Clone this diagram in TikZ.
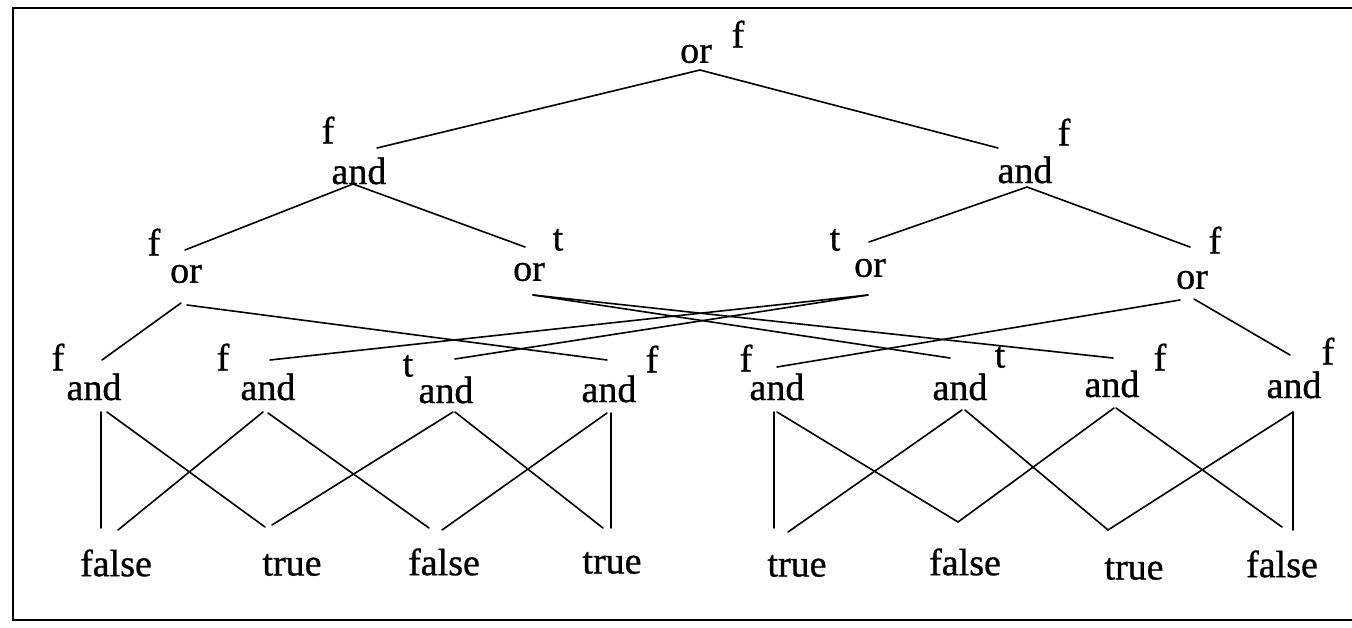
\documentclass[tikz,border=0pt]{standalone}
\usepackage{fontspec}
\setmainfont{Liberation Serif}[FakeBold=0.8]
\newcommand\edgeline[4]{\draw[edge] ([shift={#2}]#1.center) -- ([shift={#4}]#3.center);}
\begin{document}
\begin{tikzpicture}[x=1pt,y=-1pt,
  txt/.style={inner sep=0pt, font=\fontsize{38}{38}\selectfont},
  edge/.style={line width=1.6pt, line cap=round},
  frame/.style={line width=2.5pt}]
\useasboundingbox (0,0) rectangle (1352,627);
\draw[frame] (1352,8) -- (13,8) -- (13,620) -- (1352,620);
% level 1
\node[txt] (root) at (696,54) {or};
\node[txt] (rootv) at (738,34) {f};
% level 2
\node[txt] (andL) at (359,171) {and};
\node[txt] (andLv) at (328,130) {f};
\node[txt] (andR) at (1025,170) {and};
\node[txt] (andRv) at (1064,132) {f};
% level 3
\node[txt] (or1) at (186,274) {or};
\node[txt] (or1v) at (154,242) {f};
\node[txt] (or2) at (529,272) {or};
\node[txt] (or2v) at (558,240) {t};
\node[txt] (or3) at (870,268) {or};
\node[txt] (or3v) at (835,240) {t};
\node[txt] (or4) at (1192,280) {or};
\node[txt] (or4v) at (1215,240) {f};
% level 4
\node[txt] (a1) at (94,387) {and};   \node[txt] (a1v) at (58,357) {f};
\node[txt] (a2) at (268,387) {and};  \node[txt] (a2v) at (223,357) {f};
\node[txt] (a3) at (446,390) {and};  \node[txt] (a3v) at (408,366) {t};
\node[txt] (a4) at (609,389) {and};  \node[txt] (a4v) at (652,359) {f};
\node[txt] (a5) at (777,387) {and};  \node[txt] (a5v) at (746,358) {f};
\node[txt] (a6) at (960,387) {and};  \node[txt] (a6v) at (1000,357) {t};
\node[txt] (a7) at (1112,384) {and}; \node[txt] (a7v) at (1160,357) {f};
\node[txt] (a8) at (1294,385) {and}; \node[txt] (a8v) at (1328,351) {f};
% leaves
\node[txt] (l1) at (116,563) {false};
\node[txt] (l2) at (292,565) {true};
\node[txt] (l3) at (444,562) {false};
\node[txt] (l4) at (612,563) {true};
\node[txt] (l5) at (797,566) {true};
\node[txt] (l6) at (965,562) {false};
\node[txt] (l7) at (1134,569) {true};
\node[txt] (l8) at (1282,564) {false};
% edges level 1-2
\edgeline{root}{(4,16)}{andL}{(18,-23)}
\edgeline{root}{(4,16)}{andR}{(-27,-22)}
% level 2-3
\edgeline{andL}{(-6,13)}{or1}{(-1,-24)}
\edgeline{andL}{(-6,13)}{or2}{(-4,-25)}
\edgeline{andR}{(2,17)}{or3}{(-1,-26)}
\edgeline{andR}{(2,17)}{or4}{(-2,-33)}
% level 3-4
\edgeline{or1}{(-5,29)}{a1}{(8,-27)}
\edgeline{or1}{(1,31)}{a4}{(-2,-29)}
\edgeline{or2}{(4,23)}{a6}{(-10,-29)}
\edgeline{or2}{(4,23)}{a7}{(1,-26)}
\edgeline{or3}{(-2,27)}{a3}{(9,-31)}
\edgeline{or3}{(-2,27)}{a2}{(2,-27)}
\edgeline{or4}{(-12,20)}{a5}{(0,-20)}
\edgeline{or4}{(2,19)}{a8}{(-4,-30)}
% level 4-5
\edgeline{a1}{(7,25)}{l1}{(-15,-35)}
\edgeline{a1}{(13,25)}{l2}{(-27,-38)}
\edgeline{a2}{(-5,25)}{l1}{(2,-33)}
\edgeline{a2}{(0,26)}{l3}{(-15,-34)}
\edgeline{a3}{(7,22)}{l2}{(-20,-40)}
\edgeline{a3}{(9,22)}{l4}{(-9,-35)}
\edgeline{a4}{(-2,24)}{l3}{(-2,-32)}
\edgeline{a4}{(2,24)}{l4}{(-1,-35)}
\edgeline{a5}{(-3,25)}{l5}{(-23,-38)}
\edgeline{a5}{(0,25)}{l6}{(-7,-40)}
\edgeline{a6}{(2,23)}{l5}{(-9,-34)}
\edgeline{a6}{(5,23)}{l7}{(-26,-39)}
\edgeline{a7}{(2,24)}{l6}{(-7,-40)}
\edgeline{a7}{(4,24)}{l8}{(0,-37)}
\edgeline{a8}{(-1,27)}{l7}{(-26,-39)}
\edgeline{a8}{(-1,27)}{l8}{(11,-34)}
\end{tikzpicture}
\end{document}
